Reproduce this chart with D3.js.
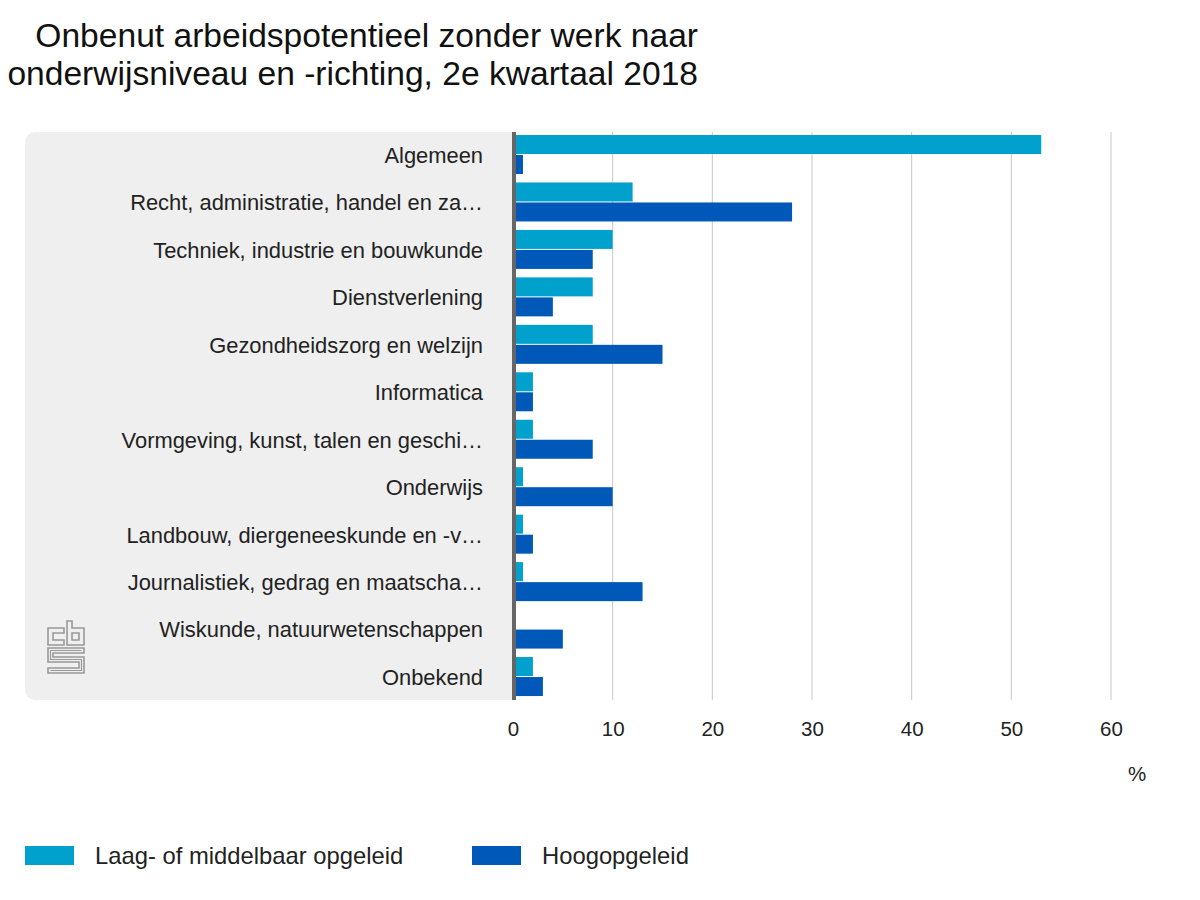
<!DOCTYPE html>
<html>
<head>
<meta charset="utf-8">
<script src="https://cdn.jsdelivr.net/npm/d3@7"></script>
<style>
  html, body { margin: 0; padding: 0; background: #fff; }
  svg { display: block; font-family: "Liberation Sans", Arial, sans-serif; }
</style>
</head>
<body>
<svg id="chart" width="1200" height="900"></svg>
<script>
const titleLines = ["Onbenut arbeidspotentieel zonder werk naar", "onderwijsniveau en -richting, 2e kwartaal 2018"];
const categories = [
  "Algemeen",
  "Recht, administratie, handel en za\u2026",
  "Techniek, industrie en bouwkunde",
  "Dienstverlening",
  "Gezondheidszorg en welzijn",
  "Informatica",
  "Vormgeving, kunst, talen en geschi\u2026",
  "Onderwijs",
  "Landbouw, diergeneeskunde en -v\u2026",
  "Journalistiek, gedrag en maatscha\u2026",
  "Wiskunde, natuurwetenschappen",
  "Onbekend"
];
const seriesNames = ["Laag- of middelbaar opgeleid", "Hoogopgeleid"];
const laagMiddelbaar = [53, 12, 10, 8, 8, 2, 2, 1, 1, 1, 0, 2];
const hoogopgeleid   = [1, 28, 8, 4, 15, 2, 8, 10, 2, 13, 5, 3];
const xTicks = [0, 10, 20, 30, 40, 50, 60];
const unitLabel = "%";
const colors = ["#00a1cd", "#0058b8"];

const svg = d3.select("#chart");
const series = [laagMiddelbaar, hoogopgeleid];

const x = d3.scaleLinear().domain([0, 60]).range([513, 1111]);
const y = d3.scaleBand().domain(categories).range([131.5, 701]);
const sub = d3.scaleBand().domain([0, 1]).range([3.5, 3.5 + 39]).paddingInner(0.05);

// title
svg.append("g").selectAll("text").data(titleLines).join("text")
  .attr("x", 698).attr("y", (d, i) => 47 + i * 38)
  .attr("text-anchor", "end")
  .attr("font-size", 33.6).attr("fill", "#111")
  .text(d => d);

// gray label panel
svg.append("rect")
  .attr("x", 25).attr("y", 132).attr("width", 500).attr("height", 568)
  .attr("rx", 10).attr("fill", "#efefef");
svg.append("rect")
  .attr("x", 513).attr("y", 130).attr("width", 30).attr("height", 575)
  .attr("fill", "#fff");

// gridlines
svg.append("g").selectAll("line").data(xTicks.filter(d => d > 0)).join("line")
  .attr("x1", d => x(d)).attr("x2", d => x(d))
  .attr("y1", 132).attr("y2", 700)
  .attr("stroke", "#c8c8c8").attr("stroke-width", 1);

// bars
const groups = svg.append("g").selectAll("g").data(categories).join("g")
  .attr("transform", d => `translate(0,${y(d)})`);
groups.selectAll("rect").data((d, i) => series.map((s, k) => ({k, v: s[i]}))).join("rect")
  .attr("x", x(0))
  .attr("y", d => sub(d.k))
  .attr("width", d => Math.max(0, x(d.v) - x(0)))
  .attr("height", sub.bandwidth())
  .attr("fill", d => colors[d.k]);

// axis line
svg.append("rect")
  .attr("x", 512).attr("y", 132).attr("width", 4).attr("height", 568)
  .attr("fill", "#666");

// category labels
svg.append("g").selectAll("text").data(categories).join("text")
  .attr("x", 483).attr("y", d => y(d) + y.bandwidth() / 2)
  .attr("dy", "0.35em")
  .attr("text-anchor", "end")
  .attr("font-size", 21.9).attr("fill", "#222")
  .text(d => d);

// x tick labels
const xAxis = d3.axisBottom(x).tickValues(xTicks).tickSize(0).tickPadding(0);
const ax = svg.append("g").attr("transform", "translate(0,721)").call(xAxis);
ax.select(".domain").remove();
ax.selectAll("text").attr("font-size", 20.5).attr("fill", "#222")
  .attr("font-family", "Liberation Sans, Arial, sans-serif");

svg.append("text").attr("x", 1137).attr("y", 781)
  .attr("text-anchor", "middle").attr("font-size", 20.5).attr("fill", "#222")
  .text(unitLabel);

// legend
const legX = [25, 472];
const leg = svg.append("g").selectAll("g").data(seriesNames).join("g")
  .attr("transform", (d, i) => `translate(${legX[i]},846)`);
leg.append("rect").attr("width", 49).attr("height", 19).attr("fill", (d, i) => colors[i]);
leg.append("text").attr("x", 70).attr("y", 10).attr("dy", "0.35em")
  .attr("font-size", 23.8).attr("fill", "#222").text(d => d);

// CBS logo (simplified)
const logo = svg.append("g").attr("transform", "translate(47,621)")
  .attr("fill", "none").attr("stroke", "#999").attr("stroke-width", 1.6);
logo.append("path").attr("d", "M17,7 H1 V24 H17 V19 H6 V12 H17 Z");
logo.append("path").attr("d", "M20,0 H25 V7 H37 V24 H20 Z M25,12 H32 V19 H25 Z");
logo.append("path").attr("d", "M1,27 H37 V32 H6 V36 H37 V52 H1 V47 H32 V41 H1 Z");
logo.append("path").attr("d", "M3.5,29.5 H34.5 M3.5,29.5 V38.5 H34.5 V49.5 H3.5").attr("stroke-width", 1.2);
</script>
</body>
</html>
